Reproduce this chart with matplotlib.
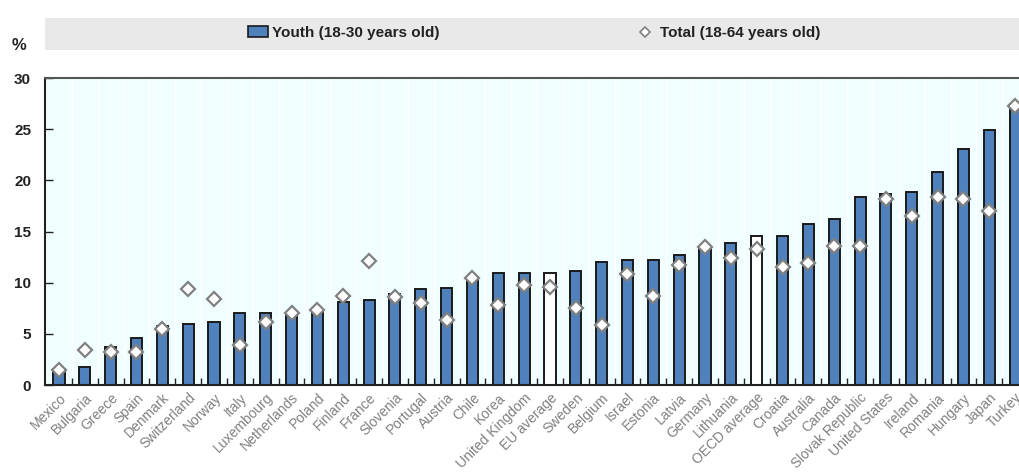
import numpy as np
import matplotlib
matplotlib.use('Agg')
import matplotlib.pyplot as plt
from matplotlib.patches import Rectangle
from matplotlib.lines import Line2D

plt.rcParams['font.family'] = ['Liberation Sans Narrow', 'Liberation Sans', 'DejaVu Sans']

countries = ['Mexico', 'Bulgaria', 'Greece', 'Spain', 'Denmark', 'Switzerland', 'Norway', 'Italy',
             'Luxembourg', 'Netherlands', 'Poland', 'Finland', 'France', 'Slovenia', 'Portugal',
             'Austria', 'Chile', 'Korea', 'United Kingdom', 'EU average', 'Sweden', 'Belgium',
             'Israel', 'Estonia', 'Latvia', 'Germany', 'Lithuania', 'OECD average', 'Croatia',
             'Australia', 'Canada', 'Slovak Republic', 'United States', 'Ireland', 'Romania',
             'Hungary', 'Japan', 'Turkey']
youth = [1.6, 1.8, 3.7, 4.6, 5.8, 6.0, 6.2, 7.0, 7.0, 7.0, 7.3, 8.1, 8.3, 8.9, 9.4,
         9.5, 10.6, 10.9, 10.9, 10.9, 11.1, 12.0, 12.2, 12.2, 12.7, 13.5, 13.9, 14.6, 14.6,
         15.7, 16.2, 18.4, 18.7, 18.9, 20.8, 23.1, 24.9, 27.2]
total = [1.5, 3.4, 3.2, 3.2, 5.5, 9.4, 8.4, 3.9, 6.2, 7.0, 7.3, 8.7, 12.1, 8.6, 8.0,
         6.4, 10.5, 7.8, 9.8, 9.6, 7.5, 5.9, 10.8, 8.7, 11.7, 13.5, 12.4, 13.3, 11.5,
         11.9, 13.6, 13.6, 18.2, 16.5, 18.4, 18.2, 17.0, 27.3]
averages = ['EU average', 'OECD average']

blue = '#4F81BD'
x = np.arange(len(countries))
colors = ['white' if c in averages else blue for c in countries]

fig = plt.figure(figsize=(10.19, 4.73), dpi=100)
ax = fig.add_axes([45/1019, 1-385/473, 1-45/1019, 307/473])
ax.set_facecolor('#F0FEFF')

# white separators between categories
for b in np.arange(-0.5, len(countries), 1):
    ax.axvline(b, color='white', lw=1, zorder=0.5)

ax.bar(x, youth, width=0.43, color=colors, edgecolor='#1a1a1a', linewidth=1.4, zorder=2)
ax.plot(x, total, linestyle='none', marker='D', markersize=7.5, markerfacecolor='white',
        markeredgecolor='#808080', markeredgewidth=1.6, zorder=3)

ax.set_xlim(-0.54, 37.15)
ax.set_ylim(0, 30)
ax.set_yticks(range(0, 31, 5))
ax.tick_params(axis='y', direction='in', length=6, width=1, labelsize=11, colors='#222222', pad=10)
for lab in ax.get_yticklabels():
    lab.set_fontweight('bold')

ax.set_xticks(x)
ax.set_xticklabels(countries, rotation=45, ha='right', rotation_mode='anchor', fontsize=10,
                   color='#808080')
ax.tick_params(axis='x', length=0, pad=4)
ax.set_xticks(np.arange(0.5, len(countries) - 1, 1), minor=True)
ax.tick_params(axis='x', which='minor', direction='in', length=5, width=1, color='#222222')

for s in ['left', 'bottom']:
    ax.spines[s].set_color('#222222')
    ax.spines[s].set_linewidth(1.5)
ax.spines['top'].set_color('#555555')
ax.spines['top'].set_linewidth(1.5)
ax.spines['right'].set_visible(False)

fig.text(12/1019, 1-46/473, '%', fontsize=12, fontweight='bold', color='#222222', va='center')

# legend band
fig.patches.append(Rectangle((45/1019, 1-50/473), 1-45/1019, 32/473, transform=fig.transFigure,
                             facecolor='#E9E9E9', edgecolor='none', zorder=0))
handles = [Rectangle((0, 0), 1, 1, facecolor=blue, edgecolor='#1a1a1a', linewidth=1.2),
           Line2D([], [], linestyle='none', marker='D', markersize=5, markerfacecolor='white',
                  markeredgecolor='#808080', markeredgewidth=1.2)]
leg = fig.legend(handles, ['Youth (18-30 years old)', 'Total (18-64 years old)'], ncol=2,
                 loc='center', bbox_to_anchor=(534/1019, 1-33/473), frameon=False,
                 columnspacing=12.8, handlelength=1.3, handletextpad=0.3,
                 prop={'size': 11, 'weight': 'bold'})
for t in leg.get_texts():
    t.set_color('#222222')

fig.savefig('out.png', dpi=100)
